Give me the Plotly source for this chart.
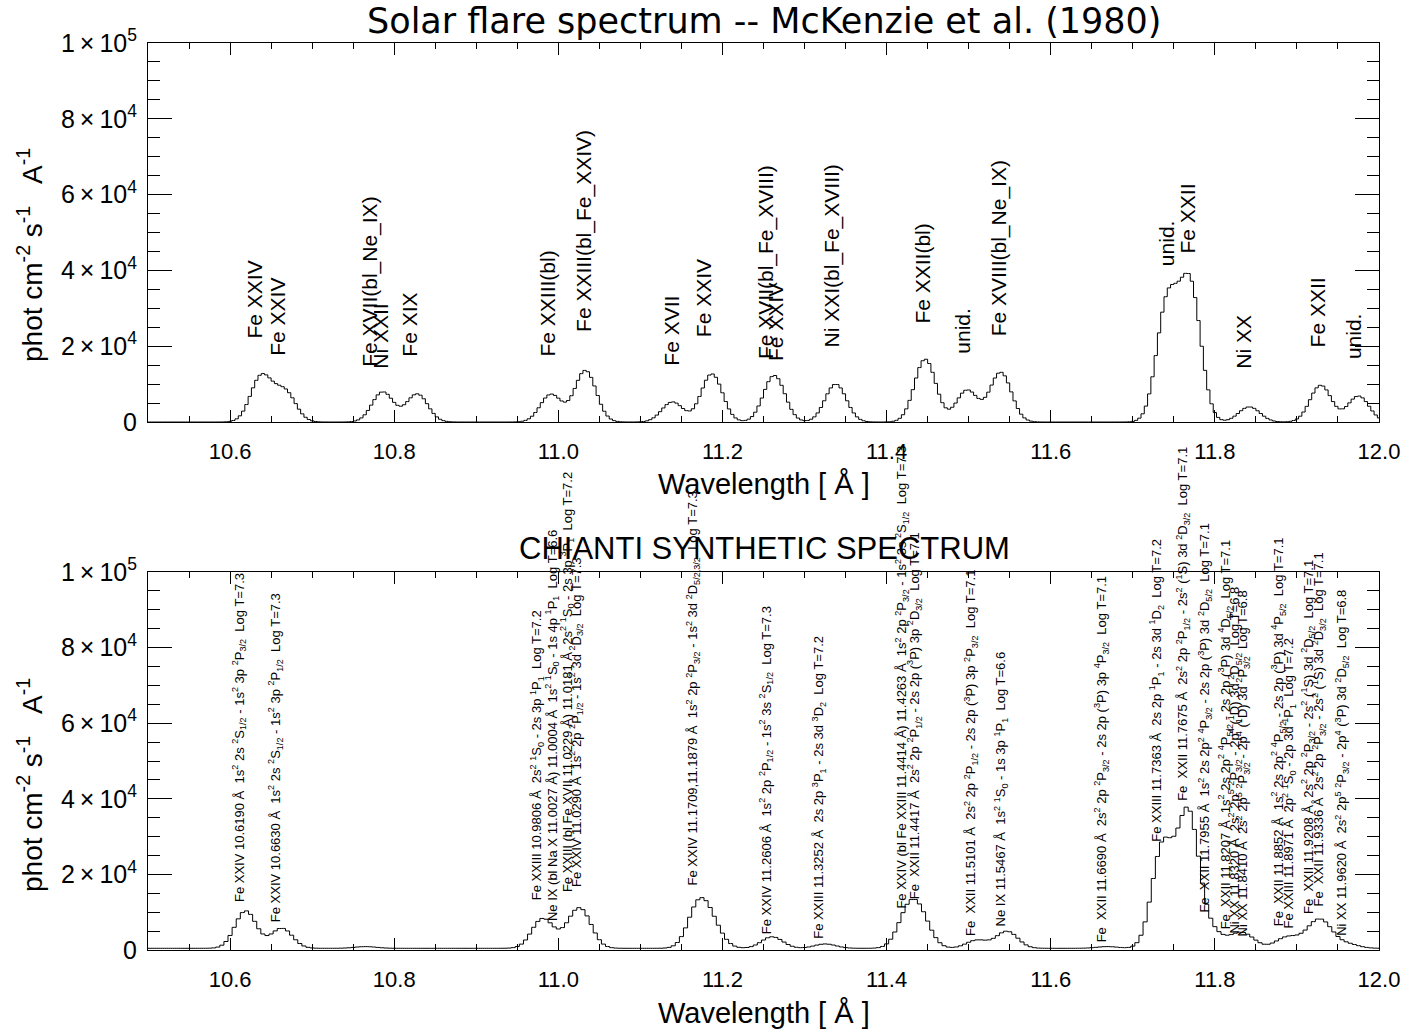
import numpy as np
import plotly.graph_objects as go

# ---------------- data ----------------
# Observed flare spectrum (McKenzie et al. 1980): line centres [A] and peak fluxes
obs_wvl = [10.638, 10.667, 10.786, 10.828, 10.991, 11.033, 11.139, 11.187, 11.263,
           11.338, 11.447, 11.498, 11.539, 11.742, 11.770, 11.842, 11.929, 11.975]
obs_peak = [12000, 7900, 7950, 7400, 7300, 13600, 5300, 12700, 12300,
            10000, 16600, 8400, 13100, 30950, 35400, 4000, 9700, 6850]
obs_sigma = 0.013
obs_bin = 0.004

# CHIANTI synthetic spectrum: line centres [A] and peak fluxes
chianti_wvl = [10.6190, 10.6630, 10.7650, 10.9806, 11.0004, 11.0181, 11.0290, 11.1709,
               11.1879, 11.2606, 11.3252, 11.4263, 11.4417, 11.5101, 11.5467, 11.6690,
               11.7363, 11.7675, 11.7955, 11.8207, 11.8320, 11.8410, 11.8852, 11.8971,
               11.9208, 11.9336, 11.9620]
chianti_peak = [9900, 5300, 450, 7700, 500, 3800, 7700, 11000,
                4800, 3050, 1150, 8700, 6800, 2150, 4500, 450,
                26700, 35400, 4000, 1000, 2400, 1400, 2200, 1100,
                4100, 4600, 1100]
chianti_continuum = 450
chianti_sigma = 0.013
chianti_bin = 0.005

# Top-panel line identifications
top_label_text = ["Fe XXIV", "Fe XXIV", "Fe XVII(bl_Ne_IX)", "Ni XXII", "Fe XIX",
                  "Fe XXIII(bl)", "Fe XXIII(bl_Fe_XXIV)", "Fe XVII", "Fe XXIV",
                  "Fe XVII(bl_Fe_XVIII)", "Fe XXIV", "Ni XXI(bl_Fe_XVIII)", "Fe XXII(bl)",
                  "unid.", "Fe XVIII(bl_Ne_IX)", "unid.", "Fe XXII", "Ni XX", "Fe XXII", "unid."]
top_label_wvl = [10.639, 10.666, 10.780, 10.792, 10.828, 10.996, 11.041, 11.146, 11.187,
                 11.263, 11.273, 11.343, 11.453, 11.502, 11.547, 11.751, 11.776, 11.843,
                 11.934, 11.979]
top_label_y = [21640, 17150, 14250, 13700, 16900, 16900, 23500, 14500, 22200,
               16400, 15800, 19500, 25600, 17700, 22400, 40900, 44100, 13700, 19500, 16400]

S = "\u00a0"
def sup(t):
    return "<sup>" + t + "</sup>"
def sub(t):
    return "<sub>" + t + "</sub>"

# CHIANTI line identifications
chianti_label_text = [
    "Fe XXIV 10.6190 Å" + S + " 1s" + sup("2") + " 2s " + sup("2") + "S" + sub("1/2") + " - 1s" + sup("2") + " 3p " + sup("2") + "P" + sub("3/2") + S + " Log T=7.3",
    "Fe XXIV 10.6630 Å" + S + " 1s" + sup("2") + " 2s " + sup("2") + "S" + sub("1/2") + " - 1s" + sup("2") + " 3p " + sup("2") + "P" + sub("1/2") + S + " Log T=7.3",
    "Fe XXIII 10.9806 Å" + S + " 2s" + sup("2") + " " + sup("1") + "S" + sub("0") + " - 2s 3p " + sup("1") + "P" + sub("1") + S + " Log T=7.2",
    "Ne IX (bl Na X 11.0027 Å) 11.0004 Å" + S + " 1s" + sup("2") + " " + sup("1") + "S" + sub("0") + " - 1s 4p " + sup("1") + "P" + sub("1") + S + " Log T=6.6",
    "Fe XXIII (bl Fe XVII 11.0229 Å) 11.0181 Å" + S + " 2s" + sup("2") + " " + sup("1") + "S" + sub("0") + " - 2s 3p " + sup("3") + "P" + sub("1") + S + " Log T=7.2",
    "Fe XXIV 11.0290 Å" + S + " 1s" + sup("2") + " 2p " + sup("2") + "P" + sub("1/2") + " - 1s" + sup("2") + " 3d " + sup("2") + "D" + sub("3/2") + S + " Log T=7.3",
    "Fe XXIV 11.1709,11.1879 Å" + S + " 1s" + sup("2") + " 2p " + sup("2") + "P" + sub("3/2") + " - 1s" + sup("2") + " 3d " + sup("2") + "D" + sub("5/2,3/2") + S + " Log T=7.3",
    "Fe XXIV 11.2606 Å" + S + " 1s" + sup("2") + " 2p " + sup("2") + "P" + sub("1/2") + " - 1s" + sup("2") + " 3s " + sup("2") + "S" + sub("1/2") + S + " Log T=7.3",
    "Fe XXIII 11.3252 Å" + S + " 2s 2p " + sup("3") + "P" + sub("1") + " - 2s 3d " + sup("3") + "D" + sub("2") + S + " Log T=7.2",
    "Fe XXIV (bl Fe XXIII 11.4414 Å) 11.4263 Å" + S + " 1s" + sup("2") + " 2p " + sup("2") + "P" + sub("3/2") + " - 1s" + sup("2") + " 3s " + sup("2") + "S" + sub("1/2") + S + " Log T=7.3",
    "Fe" + S + " XXII 11.4417 Å" + S + " 2s" + sup("2") + " 2p " + sup("2") + "P" + sub("1/2") + " - 2s 2p (" + sup("3") + "P) 3p " + sup("2") + "D" + sub("3/2") + S + " Log T=7.1",
    "Fe" + S + " XXII 11.5101 Å" + S + " 2s" + sup("2") + " 2p " + sup("2") + "P" + sub("1/2") + " - 2s 2p (" + sup("3") + "P) 3p " + sup("2") + "P" + sub("3/2") + S + " Log T=7.1",
    "Ne IX 11.5467 Å" + S + " 1s" + sup("2") + " " + sup("1") + "S" + sub("0") + " - 1s 3p " + sup("1") + "P" + sub("1") + S + " Log T=6.6",
    "Fe" + S + " XXII 11.6690 Å" + S + " 2s" + sup("2") + " 2p " + sup("2") + "P" + sub("3/2") + " - 2s 2p (" + sup("3") + "P) 3p " + sup("4") + "P" + sub("3/2") + S + " Log T=7.1",
    "Fe XXIII 11.7363 Å" + S + " 2s 2p " + sup("1") + "P" + sub("1") + " - 2s 3d " + sup("1") + "D" + sub("2") + S + " Log T=7.2",
    "Fe" + S + " XXII 11.7675 Å" + S + " 2s" + sup("2") + " 2p " + sup("2") + "P" + sub("1/2") + " - 2s" + sup("2") + " (" + sup("1") + "S) 3d " + sup("2") + "D" + sub("3/2") + S + " Log T=7.1",
    "Fe" + S + " XXII 11.7955 Å" + S + " 1s" + sup("2") + " 2s 2p" + sup("2") + " " + sup("4") + "P" + sub("3/2") + " - 2s 2p (" + sup("3") + "P) 3d " + sup("2") + "D" + sub("5/2") + S + " Log T=7.1",
    "Fe" + S + " XXII 11.8207 Å" + S + " 1s" + sup("2") + " 2s 2p" + sup("2") + " " + sup("4") + "P" + sub("5/2") + " - 2s 2p (" + sup("3") + "P) 3d " + sup("4") + "D" + sub("5/2") + S + " Log T=7.1",
    "Ni XX 11.8320 Å" + S + " 2s" + sup("2") + " 2p" + sup("5") + " " + sup("2") + "P" + sub("3/2") + " - 2p" + sup("4") + " (" + sup("1") + "D) 3d " + sup("2") + "D" + sub("5/2") + S + " Log T=6.8",
    "Ni XX 11.8410 Å" + S + " 2s" + sup("2") + " 2p" + sup("5") + " " + sup("2") + "P" + sub("3/2") + " - 2p" + sup("4") + " (" + sup("1") + "D) 3d " + sup("2") + "P" + sub("3/2") + S + " Log T=6.8",
    "Fe" + S + " XXII 11.8852 Å" + S + " 1s" + sup("2") + " 2s 2p" + sup("2") + " " + sup("4") + "P" + sub("5/2") + " - 2s 2p (" + sup("3") + "P) 3d " + sup("4") + "P" + sub("5/2") + S + " Log T=7.1",
    "Fe XXIII 11.8971 Å" + S + " 2p" + sup("2") + " " + sup("1") + "S" + sub("0") + " - 2p 3d " + sup("1") + "P" + sub("1") + S + " Log T=7.2",
    "Fe" + S + " XXII 11.9208 Å" + S + " 2s" + sup("2") + " 2p " + sup("2") + "P" + sub("3/2") + " - 2s" + sup("2") + " (" + sup("1") + "S) 3d " + sup("2") + "D" + sub("5/2") + S + " Log T=7.1",
    "Fe" + S + " XXII 11.9336 Å" + S + " 2s" + sup("2") + " 2p " + sup("2") + "P" + sub("3/2") + " - 2s" + sup("2") + " (" + sup("1") + "S) 3d " + sup("2") + "D" + sub("3/2") + S + " Log T=7.1",
    "Ni XX 11.9620 Å" + S + " 2s" + sup("2") + " 2p" + sup("5") + " " + sup("2") + "P" + sub("3/2") + " - 2p" + sup("4") + " (" + sup("3") + "P) 3d " + sup("2") + "D" + sub("5/2") + S + " Log T=6.8",
]
chianti_label_wvl = [10.6190, 10.6630, 10.9806, 11.0004, 11.0181, 11.0290, 11.1709, 11.2606,
                     11.3252, 11.4263, 11.4417, 11.5101, 11.5467, 11.6690, 11.7363, 11.7675,
                     11.7955, 11.8207, 11.8320, 11.8410, 11.8852, 11.8971, 11.9208, 11.9336,
                     11.9620]
chianti_label_y = [12470, 7160, 13000, 7430, 15100, 16450, 16700, 3980,
                   2650, 10600, 13260, 3450, 6100, 1860, 28400, 39250,
                   9550, 5300, 3980, 3180, 6100, 5300, 9280, 11140,
                   3450]

x_tick_vals = [10.6, 10.8, 11.0, 11.2, 11.4, 11.6, 11.8, 12.0]
x_tick_text = ["10.6", "10.8", "11.0", "11.2", "11.4", "11.6", "11.8", "12.0"]
y_tick_vals = [0, 20000, 40000, 60000, 80000, 100000]
y_tick_text = ["0", "2\u2009×\u200910<sup>4</sup>", "4\u2009×\u200910<sup>4</sup>",
               "6\u2009×\u200910<sup>4</sup>", "8\u2009×\u200910<sup>4</sup>",
               "1\u2009×\u200910<sup>5</sup>"]
x_range = [10.5, 12.0]
y_range = [0, 100000]

# ---------------- build spectra (sum of line profiles, binned) ----------------
def spectrum(wvls, peaks, sigma, binw, cont=0.0):
    x = np.arange(x_range[0], x_range[1] + binw / 2, binw)
    y = np.full_like(x, float(cont))
    for w, p in zip(wvls, peaks):
        y += p * np.exp(-(x - w) ** 2 / (2 * sigma ** 2))
    return x, y

x_obs, y_obs = spectrum(obs_wvl, obs_peak, obs_sigma, obs_bin)
x_ch, y_ch = spectrum(chianti_wvl, chianti_peak, chianti_sigma, chianti_bin, chianti_continuum)

# ---------------- figure ----------------
W, H = 1425, 1033
FONT = "Liberation Sans"
TITLE_FONT = "DejaVu Sans"

def px(p):
    return p / W
def py(p):
    return 1 - p / H

fig = go.Figure()
fig.add_trace(go.Scatter(x=x_obs, y=y_obs, mode="lines", line_shape="hvh",
                         line=dict(color="black", width=1), xaxis="x", yaxis="y",
                         showlegend=False, hoverinfo="skip"))
fig.add_trace(go.Scatter(x=x_ch, y=y_ch, mode="lines", line_shape="hvh",
                         line=dict(color="black", width=1), xaxis="x2", yaxis="y2",
                         showlegend=False, hoverinfo="skip"))

box_left, box_right = 148, 1379
top_box = (43, 422)
bot_box = (572, 950)

def xaxis_cfg(anchor):
    return dict(domain=[px(box_left), px(box_right)], range=x_range, anchor=anchor,
                automargin=False,
                tickmode="array", tickvals=x_tick_vals, ticktext=x_tick_text,
                ticks="inside", ticklen=12, tickwidth=1, tickcolor="black",
                minor=dict(tickmode="array", tickvals=list(np.round(np.arange(10.5, 12.001, 0.05), 2)),
                           ticks="inside", ticklen=6, tickwidth=1, tickcolor="black"),
                showline=True, linecolor="black", linewidth=1, mirror="ticks",
                showgrid=False, zeroline=False, ticklabelstandoff=10,
                tickfont=dict(family=FONT, size=22, color="black"))

def yaxis_cfg(anchor, box):
    return dict(domain=[py(box[1]), py(box[0])], range=y_range, anchor=anchor,
                automargin=False,
                tickmode="array", tickvals=y_tick_vals, ticktext=y_tick_text,
                ticks="inside", ticklen=24, tickwidth=1, tickcolor="black",
                minor=dict(tickmode="array", tickvals=list(range(0, 100001, 5000)),
                           ticks="inside", ticklen=12, tickwidth=1, tickcolor="black"),
                showline=True, linecolor="black", linewidth=1, mirror="ticks",
                showgrid=False, zeroline=False, ticklabelstandoff=5,
                tickfont=dict(family=FONT, size=25, color="black"))

fig.update_layout(
    template="none",
    width=W, height=H, autosize=False, margin=dict(l=0, r=0, t=0, b=0, pad=0),
    paper_bgcolor="white", plot_bgcolor="white", showlegend=False,
    xaxis=xaxis_cfg("y"), yaxis=yaxis_cfg("x", top_box),
    xaxis2=xaxis_cfg("y2"), yaxis2=yaxis_cfg("x2", bot_box),
)

ann = []
# titles
ann.append(dict(text="Solar flare spectrum -- McKenzie et al. (1980)", x=px(764), y=py(21),
                xref="paper", yref="paper", showarrow=False, xanchor="center", yanchor="middle",
                font=dict(family=TITLE_FONT, size=35, color="black")))
ann.append(dict(text="CHIANTI SYNTHETIC SPECTRUM", x=px(764), y=py(548),
                xref="paper", yref="paper", showarrow=False, xanchor="center", yanchor="middle",
                font=dict(family=FONT, size=31, color="black")))
# axis titles
for yc in (484, 1013):
    ann.append(dict(text="Wavelength [ Å ]", x=px(764), y=py(yc), xref="paper", yref="paper",
                    showarrow=False, xanchor="center", yanchor="middle",
                    font=dict(family=FONT, size=29, color="black")))
for yc in (255, 785):
    ann.append(dict(text="phot cm<sup>-2</sup>" + S + "s<sup>-1</sup>" + S + S + " A<sup>-1</sup>",
                    x=px(30), y=py(yc),
                    xref="paper", yref="paper", showarrow=False, textangle=-90,
                    xanchor="center", yanchor="middle",
                    font=dict(family=FONT, size=28, color="black")))

# line identifications
for t, w, yv in zip(top_label_text, top_label_wvl, top_label_y):
    ann.append(dict(text=t, x=w, y=yv, xref="x", yref="y", showarrow=False, textangle=-90,
                    xanchor="right", yanchor="bottom", xshift=5, borderpad=0,
                    font=dict(family=FONT, size=21, color="black")))
for t, w, yv in zip(chianti_label_text, chianti_label_wvl, chianti_label_y):
    ann.append(dict(text=t, x=w, y=yv, xref="x2", yref="y2", showarrow=False, textangle=-90,
                    xanchor="right", yanchor="bottom", xshift=4, borderpad=0,
                    font=dict(family=FONT, size=13, color="black")))

fig.update_layout(annotations=ann)
fig.write_html("out.html", config={"responsive": False, "displayModeBar": False})
